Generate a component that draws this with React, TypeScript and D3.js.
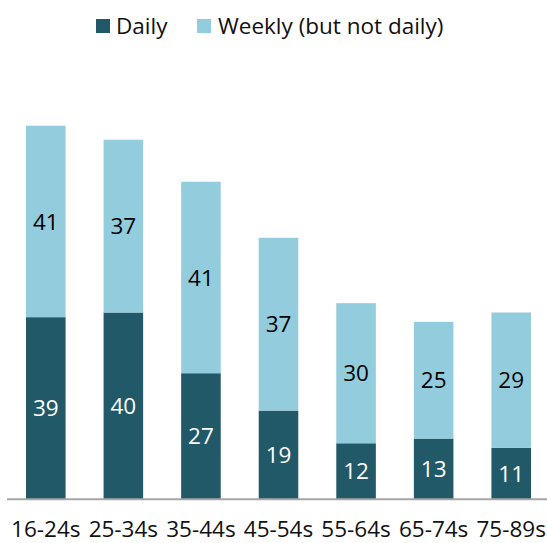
import React from 'react';
import * as d3 from 'd3';

const ageGroups = ['16-24s', '25-34s', '35-44s', '45-54s', '55-64s', '65-74s', '75-89s'];
const dailyValues = [39, 40, 27, 19, 12, 13, 11];
const weeklyValues = [41, 37, 41, 37, 30, 25, 29];
const seriesNames = ['Daily', 'Weekly (but not daily)'];

const DARK = '#215968';
const LIGHT = '#93cddd';
const FONT = '"Open Sans", "Liberation Sans", sans-serif';

export default function App() {
  const width = 547;
  const height = 543;
  const baseline = 499.3;

  const x = d3.scaleBand<string>()
    .domain(ageGroups)
    .range([7, 550])
    .paddingInner(0.49)
    .paddingOuter(0.245);

  const y = d3.scaleLinear()
    .domain([0, 90])
    .range([baseline, baseline - 90 * 4.67]);

  const rows = ageGroups.map((g, i) => ({
    group: g,
    daily: dailyValues[i],
    weekly: weeklyValues[i],
  }));

  const stacked = d3.stack<any>().keys(['daily', 'weekly'])(rows);
  const colors = [DARK, LIGHT];
  const textColors = ['#ffffff', '#000000'];

  return (
    <div style={{ position: 'absolute', left: 0, top: 0 }}>
      <svg width={width} height={height} style={{ display: 'block', fontFamily: FONT }}>
        <rect width={width} height={height} fill="#ffffff" />

        {/* legend */}
        <g>
          <rect x={96} y={19} width={14} height={14} fill={DARK} />
          <text x={116} y={34} fontSize={22.5} fill="#111">{seriesNames[0]}</text>
          <rect x={197} y={19} width={14} height={14} fill={LIGHT} />
          <text x={218} y={34} fontSize={22.5} fill="#111">{seriesNames[1]}</text>
        </g>

        {/* bars */}
        {stacked.map((layer, li) => (
          <g key={li}>
            {layer.map((d: any, i: number) => (
              <rect
                key={i}
                x={x(ageGroups[i])}
                y={y(d[1])}
                width={x.bandwidth()}
                height={y(d[0]) - y(d[1])}
                fill={colors[li]}
              />
            ))}
            {layer.map((d: any, i: number) => (
              <text
                key={'t' + i}
                x={(x(ageGroups[i]) as number) + x.bandwidth() / 2}
                y={(y(d[0]) + y(d[1])) / 2}
                dy="0.36em"
                textAnchor="middle"
                fontSize={22.5}
                fill={textColors[li]}
              >
                {d[1] - d[0]}
              </text>
            ))}
          </g>
        ))}

        {/* axis line */}
        <line x1={7} x2={width} y1={baseline} y2={baseline} stroke="#a6a6a6" strokeWidth={2} />

        {/* category labels */}
        {ageGroups.map(g => (
          <text
            key={g}
            x={(x(g) as number) + x.bandwidth() / 2}
            y={537}
            textAnchor="middle"
            fontSize={22.5}
            fill="#111"
          >
            {g}
          </text>
        ))}
      </svg>
    </div>
  );
}
